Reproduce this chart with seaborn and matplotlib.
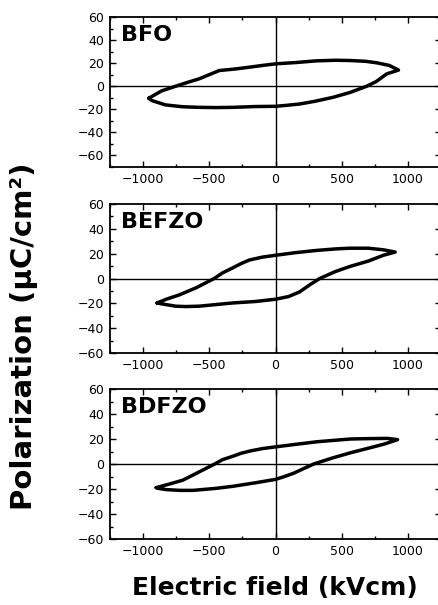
import numpy as np
import pandas as pd
import matplotlib
matplotlib.use("Agg")
import matplotlib.pyplot as plt
import seaborn as sns
from matplotlib.ticker import MultipleLocator

# P-E hysteresis loops (E in kV/cm, P in uC/cm2)
# each loop: from the negative tip along the upper branch to the positive tip,
# then back along the lower branch to the start
bfo_E = [-957, -860, -754, -660, -577, -425, -300, -197, -100, 0, 150, 309, 450, 562, 680, 765, 860, 929,
         840, 760, 689, 560, 435, 300, 182, 80, 0, -150, -324, -450, -577, -700, -830, -932, -957]
bfo_P = [-10.4, -4.0, 0.0, 3.5, 6.4, 13.6, 15.0, 16.5, 18.0, 19.4, 20.5, 22.0, 22.5, 22.3, 21.6, 20.3, 18.0, 14.0,
         10.7, 4.0, 0.0, -5.5, -9.6, -13.0, -15.4, -16.6, -17.4, -17.6, -18.3, -18.5, -18.3, -17.8, -16.2, -12.5, -10.4]

befzo_E = [-894, -820, -729, -600, -463, -400, -324, -260, -197, -100, 0, 150, 309, 450, 562, 700, 815, 904,
           815, 700, 562, 450, 334, 260, 182, 100, 0, -150, -324, -450, -577, -680, -754, -856, -894]
befzo_P = [-19.7, -16.5, -13.3, -7.5, 0.0, 4.5, 8.5, 12.0, 14.9, 17.2, 18.7, 20.8, 22.6, 23.8, 24.4, 24.4, 23.1, 21.3,
           18.7, 14.0, 9.7, 5.5, 0.0, -5.0, -10.8, -14.5, -16.7, -18.5, -19.7, -21.0, -22.3, -22.6, -22.3, -20.5, -19.7]

bdfzo_E = [-901, -800, -699, -580, -459, -400, -319, -260, -192, -100, 0, 150, 314, 450, 567, 700, 846, 922,
           820, 700, 567, 420, 289, 210, 137, 60, 0, -150, -319, -450, -623, -720, -826, -880, -901]
bdfzo_P = [-18.9, -16.0, -12.9, -6.5, 0.0, 3.5, 6.3, 8.6, 10.4, 12.3, 13.7, 15.7, 17.8, 19.0, 20.0, 20.3, 20.5, 19.5,
           15.9, 12.6, 9.0, 4.5, 0.0, -3.8, -7.4, -10.3, -12.3, -15.0, -17.8, -19.5, -21.1, -21.1, -20.5, -19.6, -18.9]

samples = ["BFO", "BEFZO", "BDFZO"]
loops = {"BFO": (bfo_E, bfo_P), "BEFZO": (befzo_E, befzo_P), "BDFZO": (bdfzo_E, bdfzo_P)}
ylims = {"BFO": (-70, 60), "BEFZO": (-60, 60), "BDFZO": (-60, 60)}
x_ticks = [-1000, -500, 0, 500, 1000]
y_ticks = [-60, -40, -20, 0, 20, 40, 60]

sns.set_style("ticks")
plt.rcParams['font.family'] = ['DejaVu Sans']
plt.rcParams['text.color'] = 'black'
plt.rcParams['axes.edgecolor'] = 'black'
plt.rcParams['xtick.color'] = 'black'
plt.rcParams['ytick.color'] = 'black'

W, H = 439, 605
fig = plt.figure(figsize=(W / 100, H / 100), dpi=100)

# axes boxes in pixels: (top, bottom)
boxes = [(17, 167), (204, 353), (389, 539)]
left_px, right_px = 110, 441

for name, (top, bot) in zip(samples, boxes):
    ax = fig.add_axes([left_px / W, 1 - bot / H, (right_px - left_px) / W, (bot - top) / H])
    E, P = loops[name]
    df = pd.DataFrame({"E": E, "P": P})
    ax.axhline(0, color="black", lw=1.0, zorder=1)
    ax.axvline(0, color="black", lw=1.0, zorder=1)
    sns.lineplot(data=df, x="E", y="P", sort=False, estimator=None, color="black",
                 lw=2.5, ax=ax, zorder=3)
    ax.set_xlim(-1250, 1250)
    ax.set_ylim(*ylims[name])
    ax.set_xticks(x_ticks)
    ax.set_yticks(y_ticks)
    ax.xaxis.set_minor_locator(MultipleLocator(250))
    ax.yaxis.set_minor_locator(MultipleLocator(10))
    ax.tick_params(which="both", direction="in", top=True, right=True, width=1.0,
                   labelsize=9, pad=4, labelcolor="black")
    ax.tick_params(which="major", length=4)
    ax.tick_params(which="minor", length=2.5)
    for s in ax.spines.values():
        s.set_linewidth(1.3)
    ax.set_xlabel("")
    ax.set_ylabel("")
    ax.text(0.032, 0.88, name, transform=ax.transAxes, fontsize=16, fontweight="bold",
            ha="left", va="center")

fig.text(275 / W, 1 - 588 / H, "Electric field (kVcm)", fontsize=18, fontweight="bold",
         ha="center", va="center")
fig.text(24 / W, 1 - 336 / H, "Polarization (\u03bcC/cm\u00b2)", fontsize=21, fontweight="bold",
         ha="center", va="center", rotation=90)

fig.savefig("out.png", dpi=100)
